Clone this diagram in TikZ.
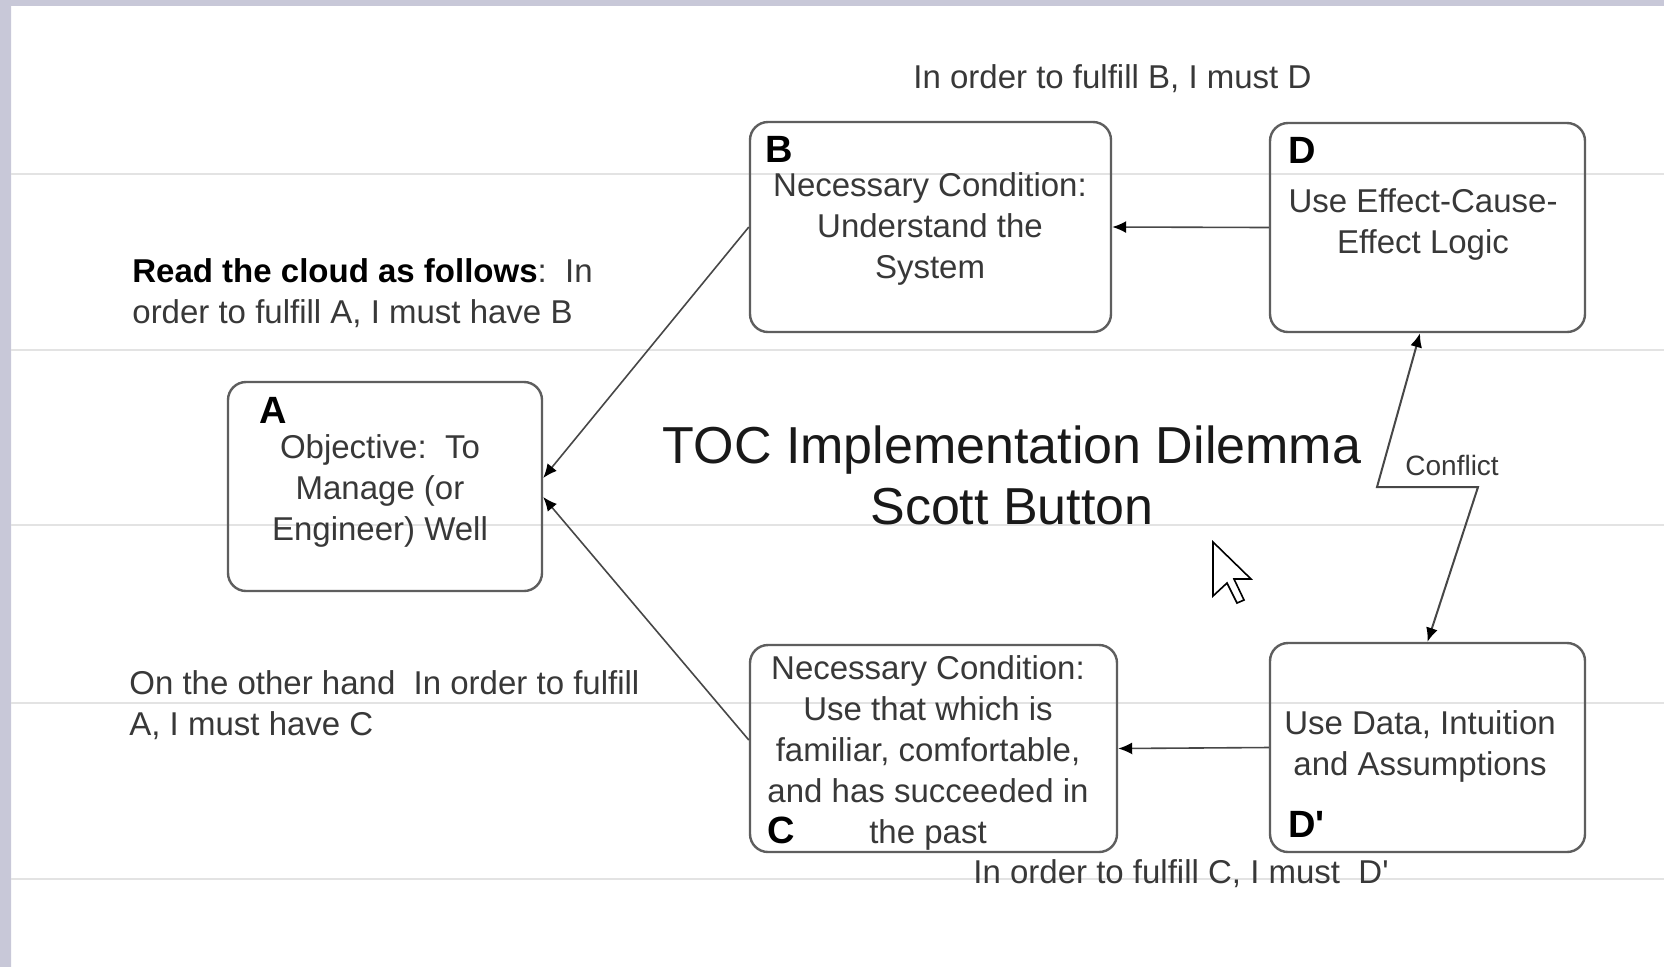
\documentclass[tikz,border=0pt]{standalone}
\usepackage{fontspec}
\setmainfont{Liberation Sans}
\usetikzlibrary{arrows.meta}

\definecolor{framelav}{HTML}{C8C8D8}
\definecolor{framemid}{HTML}{DADADE}
\definecolor{guidegray}{HTML}{E3E3E3}
\definecolor{boxgray}{HTML}{5E5E5E}
\definecolor{txtgray}{HTML}{383838}
\definecolor{linegray}{HTML}{474747}

\newcommand{\boxfont}{\fontsize{16.5}{20.5}\selectfont}
\newcommand{\notefont}{\fontsize{16.5}{20.5}\selectfont}
\newcommand{\letterfont}{\fontsize{19}{22}\selectfont\bfseries}
\newcommand{\titlefont}{\fontsize{26}{30.5}\selectfont}

\begin{document}
\begin{tikzpicture}[x=0.5pt,y=-0.5pt,
  cloudbox/.style={draw=boxgray,line width=1.2pt,rounded corners=9pt},
  boxtext/.style={anchor=north,align=center,text=txtgray,font=\boxfont},
  boxletter/.style={anchor=base west,text=black,font=\letterfont},
  note/.style={text=txtgray,font=\notefont},
  link/.style={draw=linegray,line width=0.8pt,-{Latex[length=7pt,width=6pt,color=black]}},
  conflict/.style={draw=linegray,line width=1pt,{Latex[length=7pt,width=6pt,color=black]}-{Latex[length=7pt,width=6pt,color=black]}}]
\tikzstyle{every node}+=[inner sep=0pt]
\useasboundingbox (0,0) rectangle (1664,966);
% frame and guide lines
\fill[white] (0,0) rectangle (1664,966);
\fill[framelav] (0,0) rectangle (1664,6);
\shade[top color=framelav,middle color=framemid,bottom color=framelav] (0,0) rectangle (11,966);
\foreach \gy in {174,350,525,703,879}
  \draw[guidegray,line width=0.8pt] (11,\gy) -- (1664,\gy);
% boxes
\node[cloudbox,minimum width=157pt,minimum height=104.5pt] (A) at (385,486.5) {};
\node[cloudbox,minimum width=180.5pt,minimum height=105pt] (B) at (930.5,227) {};
\node[cloudbox,minimum width=157.5pt,minimum height=104.5pt] (D) at (1427.5,227.5) {};
\node[cloudbox,minimum width=183.5pt,minimum height=103.5pt] (C) at (933.5,748.5) {};
\node[cloudbox,minimum width=157.5pt,minimum height=104.5pt] (Dp) at (1427.5,747.5) {};
% box letters
\node[boxletter] (Alabel) at (259,423) {A};
\node[boxletter] (Blabel) at (765,162) {B};
\node[boxletter] (Dlabel) at (1288,163) {D};
\node[boxletter] (Clabel) at (767,843) {C};
\node[boxletter] (Dplabel) at (1288,837) {D\textquotesingle};
% box texts
\node[boxtext] (Atext) at (380,434) {Objective:\ \ To\\Manage (or\\Engineer) Well};
\node[boxtext] (Btext) at (930,172) {Necessary Condition:\\Understand the\\System};
\node[boxtext] (Dtext) at (1423,188) {Use Effect-Cause-\\Effect Logic};
\node[boxtext] (Ctext) at (928,655) {Necessary Condition:\\Use that which is\\familiar, comfortable,\\and has succeeded in\\the past};
\node[boxtext] (Dptext) at (1420,710) {Use Data, Intuition\\and Assumptions};
% title
\node[anchor=north,align=center,text=black!90,font=\titlefont] (title) at (1012,425) {TOC Implementation Dilemma\\Scott Button};
% notes
\node[note,anchor=north west,align=left] (readnote) at (132,258) {\textcolor{black}{\bfseries Read the cloud as follows}:\ \ In\\order to fulfill A, I must have B};
\node[note,anchor=north west,align=left] (othernote) at (129,670) {On the other hand\ \ In order to fulfill\\A, I must have C};
\node[note,anchor=base west] (topnote) at (913,88) {In order to fulfill B, I must D};
\node[note,anchor=base west] (botnote) at (973,883) {In order to fulfill C, I must\ \ D\textquotesingle};
\node[note,anchor=base west,font=\fontsize{14}{16}\selectfont] (conflictnote) at (1405,475) {Conflict};
% connectors
\coordinate (zigL) at (1377,487);
\coordinate (zigR) at (1478,487);
\draw[link] (B.west) -- ([yshift=4.25pt]A.east);
\draw[link] ([yshift=4.25pt]C.west) -- ([yshift=-5.25pt]A.east);
\draw[link] (D.west) -- (B.east);
\draw[link] (Dp.west) -- (C.east);
\draw[conflict] ([xshift=-3.75pt]D.south) -- (zigL) -- (zigR) -- (Dp.north);
% mouse pointer
\draw[black,fill=white,line width=0.8pt,line join=miter] (1213,542) -- ++(0,54) -- ++(14,-13) -- ++(10,20) -- ++(7,-3) -- ++(-10,-21) -- ++(17,0) -- cycle;
\end{tikzpicture}
\end{document}
